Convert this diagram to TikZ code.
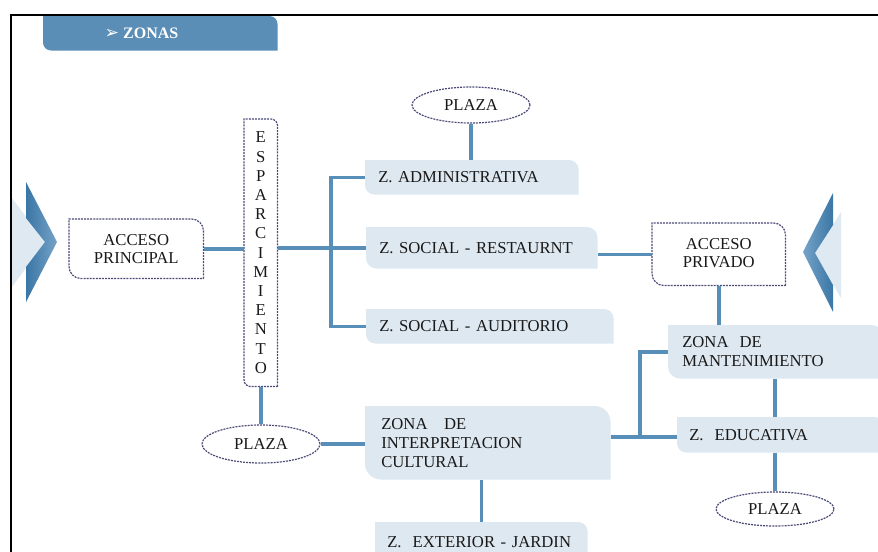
\documentclass[tikz,border=0pt]{standalone}
\usepackage{fontspec}
\setmainfont{Liberation Serif}
\newfontfamily\symfont{DejaVu Sans}
\usetikzlibrary{shapes.geometric,calc,backgrounds}
\definecolor{tabblue}{RGB}{90,142,182}
\definecolor{linkblue}{RGB}{88,143,185}
\definecolor{boxfill}{RGB}{222,232,240}
\definecolor{dashcol}{RGB}{75,75,120}
\definecolor{txt}{RGB}{25,25,25}
\definecolor{chevdark}{RGB}{58,118,165}
\definecolor{chevlight}{RGB}{118,163,200}
\definecolor{chevpale}{RGB}{222,233,241}
\newcommand\tabshape[3]{\path[#3] (#1.south east) -- ([yshift=-#2]#1.north east) arc[start angle=0,end angle=90,radius=#2] -- (#1.north west) -- ([yshift=#2]#1.south west) arc[start angle=180,end angle=270,radius=#2] -- cycle;}
\begin{document}
\begin{tikzpicture}[x=0.75pt,y=-0.75pt,
  font=\fontsize{12.5}{14.2}\selectfont, text=txt,
  zbox/.style n args={3}{anchor=north west, rectangle, inner ysep=0pt, inner xsep=#3, text width=#1, minimum height=#2, align=left},
  dbox/.style 2 args={anchor=north west, rectangle, inner sep=0pt, minimum width=#1, minimum height=#2, align=center},
  plaza/.style 2 args={ellipse, draw=dashcol, line width=0.9pt, dash pattern=on 1.5pt off 0.8pt, fill=white, inner sep=0pt, minimum width=#1, minimum height=#2},
  boxfillstyle/.style={fill=boxfill},
  dashstyle/.style={draw=dashcol, line width=0.9pt, dash pattern=on 1.5pt off 0.8pt, fill=white},
  link/.style={draw=linkblue, line width=2.6pt}]
\useasboundingbox (0,0) rectangle (878,551);
\clip (0,0) rectangle (878,551);

% title tab and label
\node[dbox={175.5pt}{25.5pt}] (tab) at (43,16) {};
\node[anchor=west, text=white, font=\fontsize{12}{14}\selectfont\bfseries] (ttl) at (100,33) {{\symfont\fontsize{13}{14}\selectfont ➢}\hspace{3pt}ZONAS};

% boxes with text
\node[zbox={140.25pt}{25.5pt}{9.75pt}] (adm) at (365,160) {Z. ADMINISTRATIVA};
\node[zbox={153.75pt}{30.75pt}{9.75pt}] (rest) at (366,227) {Z. SOCIAL - RESTAURNT};
\node[zbox={165.75pt}{25.5pt}{9.75pt}] (aud) at (366,309) {Z. SOCIAL - AUDITORIO};
\node[zbox={159.75pt}{54.75pt}{12pt}] (zic) at (365,406) {ZONA\ \ \ DE\\INTERPRETACION\\CULTURAL};
\node[zbox={141pt}{30pt}{9pt}] (ext) at (375,522) {Z.\ \ EXTERIOR - JARDIN};
\node[zbox={140.25pt}{39.75pt}{10.5pt}] (mant) at (668,325) {ZONA\ \ DE\\MANTENIMIENTO};
\node[zbox={136.5pt}{26.25pt}{9pt}] (edu) at (677,417) {Z.\ \ EDUCATIVA};

% dashed boxes with text
\node[dbox={100.5pt}{44.25pt}, font=\fontsize{12.5}{13.6}\selectfont] (ap) at (69,219) {ACCESO\\PRINCIPAL};
\node[dbox={24.75pt}{200.25pt}, font=\fontsize{12.5}{14.4}\selectfont] (esp) at (244,119) {E\\S\\P\\A\\R\\C\\I\\M\\I\\E\\N\\T\\O};
\node[dbox={99.75pt}{46.5pt}, font=\fontsize{12.5}{13.6}\selectfont, text depth=2pt] (priv) at (652,223) {ACCESO\\PRIVADO};

% plazas
\node[plaza={88.5pt}{27pt}] (pl1) at (471,105) {PLAZA};
\node[plaza={88.5pt}{28.5pt}] (pl2) at (261,444) {PLAZA};
\node[plaza={88.5pt}{25.5pt}] (pl3) at (775,509) {PLAZA};

\begin{scope}[on background layer]
\fill[white] (0,0) rectangle (878,551);
% frame
\draw[line width=1.5pt, black] (11,560) -- (11,15) -- (890,15);
% chevrons
\fill[chevpale] (12,198) -- (45,242) -- (12,287) -- cycle;
\shade[left color=chevdark, right color=chevlight] (26,182) -- (57,242) -- (26,302) -- (26,267) -- (45,242) -- (26,218) -- cycle;
\fill[chevpale] (841,212) -- (815,253) -- (841,298) -- cycle;
\shade[left color=chevlight, right color=chevdark] (833,193) -- (803,252) -- (833,312) -- (833,285) -- (815,253) -- (833,225) -- cycle;
% shapes
\tabshape{tab}{6pt}{fill=tabblue}
\tabshape{adm}{7pt}{boxfillstyle}
\tabshape{rest}{8pt}{boxfillstyle}
\tabshape{aud}{7pt}{boxfillstyle}
\tabshape{zic}{12pt}{boxfillstyle}
\tabshape{ext}{7pt}{boxfillstyle}
\tabshape{mant}{9pt}{boxfillstyle}
\tabshape{edu}{7pt}{boxfillstyle}
\tabshape{ap}{9pt}{dashstyle}
\tabshape{esp}{5pt}{dashstyle}
\tabshape{priv}{9pt}{dashstyle}
% connectors
\coordinate (busA) at (331,178);
\coordinate (busB) at (640,437);
\coordinate (colC) at (775,400);
\draw[link] (ap.east) -- (ap.east -| esp.west);
\draw[link] (esp.east |- rest.west) -- (rest.west);
\draw[link] (adm.west) -| (busA |- aud.west) -- (aud.west);
\draw[link] (pl1.south) -- (pl1.south |- adm.north);
\draw[link] (priv.west -| rest.east) -- (priv.west);
\draw[link] (priv.south) -- (priv.south |- mant.north);
\draw[link] (mant.west) -| (busB);
\draw[link] (zic.east |- busB) -- (busB -| edu.west);
\draw[link] (mant.south -| colC) -- (edu.north -| colC);
\draw[link] (edu.south -| colC) -- (pl3.north);
\draw[link] (esp.south) -- (esp.south |- pl2.north);
\draw[link] (pl2.east) -- (pl2.east -| zic.west);
\draw[link] (ext.north |- zic.south) -- (ext.north);
\end{scope}
\end{tikzpicture}
\end{document}
